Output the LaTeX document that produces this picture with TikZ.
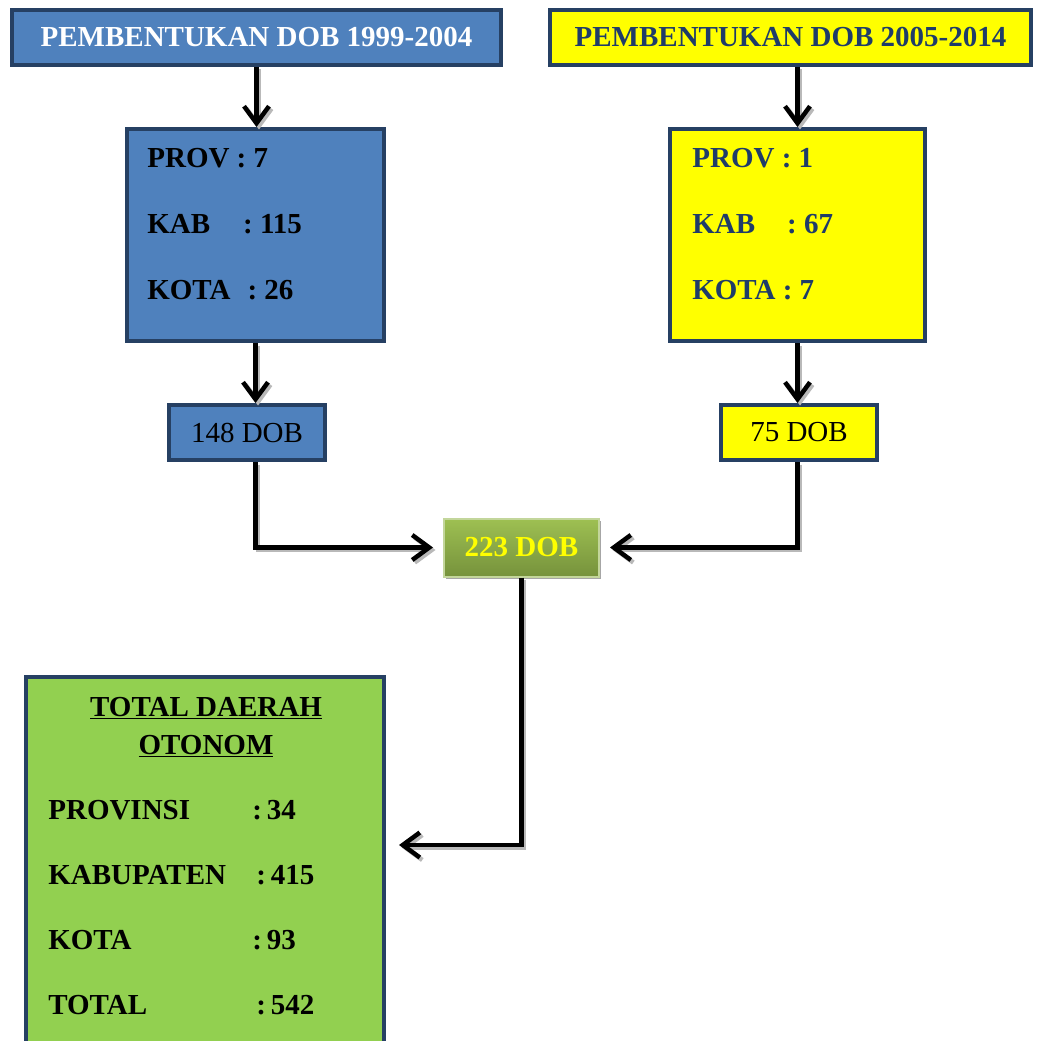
\documentclass[tikz,border=0pt]{standalone}
\usepackage{fontspec}
\setmainfont{Liberation Serif}
\usetikzlibrary{arrows.meta, positioning, shadows}
\definecolor{dobblue}{RGB}{79,129,189}
\definecolor{dobnavy}{RGB}{38,64,99}
\definecolor{dobyellow}{RGB}{255,255,0}
\definecolor{dobtext}{RGB}{31,60,105}
\definecolor{otogreen}{RGB}{146,208,80}
\definecolor{olivetop}{RGB}{158,192,82}
\definecolor{olivebot}{RGB}{118,146,60}
\definecolor{oliveedge}{RGB}{195,214,155}
\newcommand\dobsize{\fontsize{16.5}{20}\selectfont}

\tikzset{
  box/.style={rectangle, draw=dobnavy, line width=0.08cm, inner sep=0pt},
  flowshade/.style={line width=0.09cm, gray!55, -{Straight Barb[length=0.34cm,width=0.5cm]}},
  flow/.style={-{Straight Barb[length=0.34cm,width=0.5cm]}, line width=0.09cm, black},
  row/.style={anchor=west, inner sep=0pt, font=\dobsize\bfseries}
}

\begin{document}
\begin{tikzpicture}[font=\dobsize]
\useasboundingbox (0,0) rectangle (20.74,-20.82);

% Period 1999-2004
\node[box, fill=dobblue, text=white, font=\dobsize\bfseries, minimum width=9.78cm, minimum height=1.10cm] (titleL) at (5.13,-0.75) {PEMBENTUKAN DOB 1999-2004};
\node[box, fill=dobblue, minimum width=5.14cm, minimum height=4.24cm] (provL) at (5.11,-4.70) {};
\node[row] (provLa) at (2.94,-3.16) {PROV : 7};
\node[row] (provLb) at (2.94,-4.48) {KAB\hspace{0.66cm}: 115};
\node[row] (provLc) at (2.94,-5.80) {KOTA\hspace{0.34cm}: 26};
\node[box, fill=dobblue, minimum width=3.12cm, minimum height=1.10cm] (dobL) at (4.94,-8.65) {148 DOB};

% Period 2005-2014
\node[box, fill=dobyellow, text=dobtext, font=\dobsize\bfseries, minimum width=9.62cm, minimum height=1.10cm] (titleR) at (15.81,-0.75) {PEMBENTUKAN DOB 2005-2014};
\node[box, fill=dobyellow, minimum width=5.10cm, minimum height=4.24cm] (provR) at (15.95,-4.70) {};
\node[row, text=dobtext] (provRa) at (13.84,-3.16) {PROV : 1};
\node[row, text=dobtext] (provRb) at (13.84,-4.48) {KAB\hspace{0.64cm}: 67};
\node[row, text=dobtext] (provRc) at (13.84,-5.80) {KOTA : 7};
\node[box, fill=dobyellow, minimum width=3.12cm, minimum height=1.10cm] (dobR) at (15.98,-8.65) {75 DOB};

% Sum of new regions
\node[rectangle, draw=oliveedge, line width=0.04cm, top color=olivetop, bottom color=olivebot,
  drop shadow={shadow xshift=0.04cm, shadow yshift=-0.05cm, fill=gray!70, opacity=1},
  text=dobyellow, font=\dobsize\bfseries, minimum width=3.10cm, minimum height=1.16cm] (dobT) at (10.43,-10.95) {223 DOB};

% Total autonomous regions
\node[box, fill=otogreen, minimum width=7.16cm, minimum height=7.86cm] (total) at (4.10,-17.47) {};
\node[anchor=base, inner sep=0pt, font=\dobsize\bfseries] (totalA) at (4.12,-14.32) {\underline{TOTAL DAERAH}};
\node[anchor=base, inner sep=0pt, font=\dobsize\bfseries] (totalB) at (4.12,-15.08) {\underline{OTONOM}};
\node[row] (rowA) at (0.96,-16.20) {\makebox[4.08cm][l]{PROVINSI}:\,34};
\node[row] (rowB) at (0.96,-17.50) {\makebox[4.16cm][l]{KABUPATEN}:\,415};
\node[row] (rowC) at (0.96,-18.80) {\makebox[4.08cm][l]{KOTA}:\,93};
\node[row] (rowD) at (0.96,-20.11) {\makebox[4.16cm][l]{TOTAL}:\,542};
\coordinate (totin) at (7.98,-16.90);

% Connections (gray shadow first)
\begin{scope}[transform canvas={shift={(0.05,-0.05)}}]
\draw[flowshade] (titleL.south) -- (titleL.south |- provL.north);
\draw[flowshade] (provR.north |- titleR.south) -- (provR.north);
\draw[flowshade] (provL.south) -- (provL.south |- dobL.north);
\draw[flowshade] (provR.south) -- (provR.south |- dobR.north);
\draw[flowshade, shorten >=0.2cm] (provL.south |- dobL.south) |- (dobT.west);
\draw[flowshade, shorten >=0.2cm] (provR.south |- dobR.south) |- (dobT.east);
\draw[flowshade] (dobT.south) |- (totin);
\end{scope}
\draw[flow] (titleL.south) -- (titleL.south |- provL.north);
\draw[flow] (provR.north |- titleR.south) -- (provR.north);
\draw[flow] (provL.south) -- (provL.south |- dobL.north);
\draw[flow] (provR.south) -- (provR.south |- dobR.north);
\draw[flow, shorten >=0.2cm] (provL.south |- dobL.south) |- (dobT.west);
\draw[flow, shorten >=0.2cm] (provR.south |- dobR.south) |- (dobT.east);
\draw[flow] (dobT.south) |- (totin);
\end{tikzpicture}
\end{document}
